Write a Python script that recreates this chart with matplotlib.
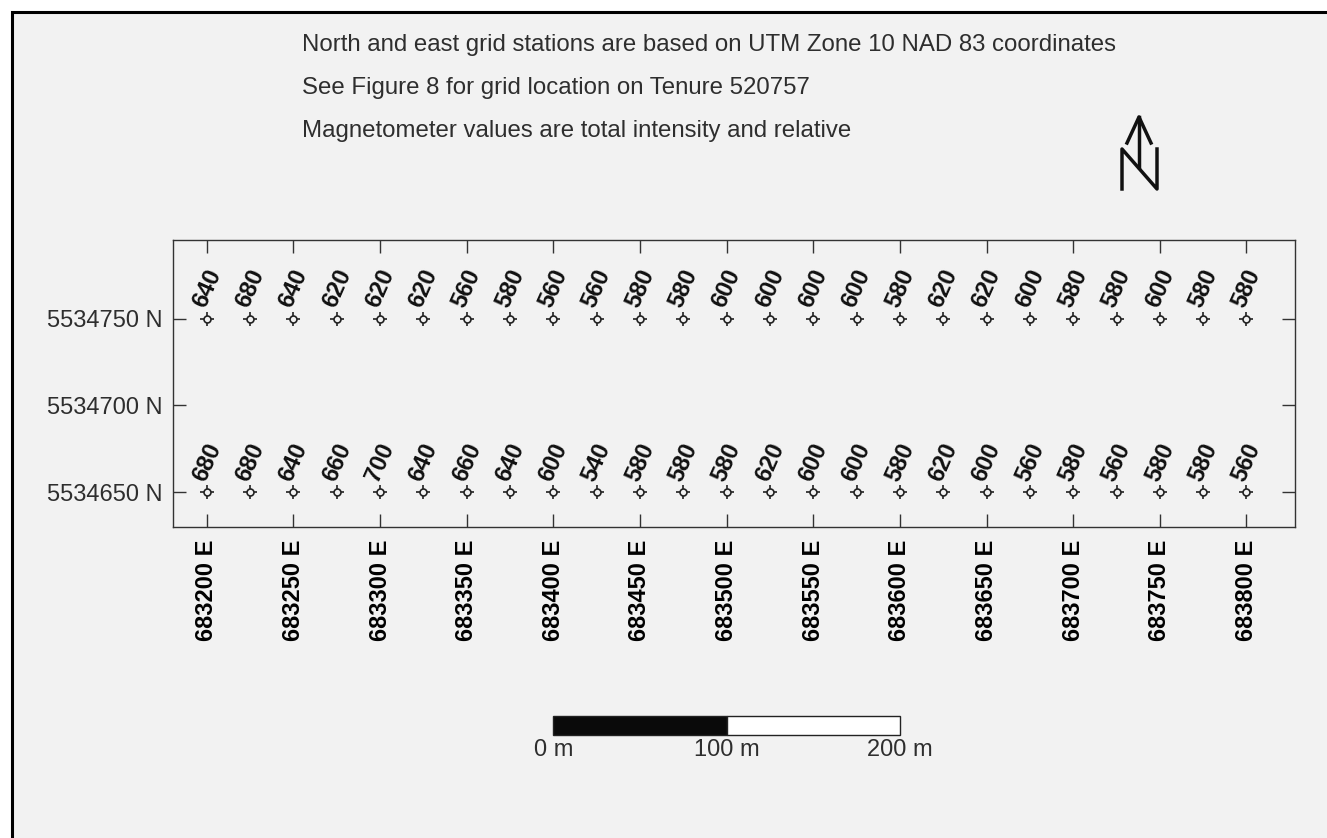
import matplotlib
matplotlib.use("Agg")
import matplotlib.pyplot as plt
import matplotlib.transforms as mtransforms
from matplotlib.patches import Rectangle
from matplotlib.lines import Line2D

# station eastings along both grid lines
eastings = [683200, 683225, 683250, 683275, 683300, 683325, 683350, 683375,
            683400, 683425, 683450, 683475, 683500, 683525, 683550, 683575,
            683600, 683625, 683650, 683675, 683700, 683725, 683750, 683775,
            683800]
north_line = 5534750
south_line = 5534650

# magnetometer readings (total intensity, relative)
mag_north = [640, 680, 640, 620, 620, 620, 560, 580, 560, 560, 580, 580, 600,
             600, 600, 600, 580, 620, 620, 600, 580, 580, 600, 580, 580]
mag_south = [680, 680, 640, 660, 700, 640, 660, 640, 600, 540, 580, 580, 580,
             620, 600, 600, 580, 620, 600, 560, 580, 560, 580, 580, 560]

x_ticks = [683200, 683250, 683300, 683350, 683400, 683450, 683500, 683550,
           683600, 683650, 683700, 683750, 683800]
y_ticks = [5534650, 5534700, 5534750]

notes = ["North and east grid stations are based on UTM Zone 10 NAD 83 coordinates",
         "See Figure 8 for grid location on Tenure 520757",
         "Magnetometer values are total intensity and relative"]

scale_start = 683400
scale_marks = [0, 100, 200]

W, H = 1327, 838
plt.rcParams['font.family'] = ['Liberation Sans', 'DejaVu Sans']

fig = plt.figure(figsize=(W / 100, H / 100), dpi=100, facecolor='white')


def fx(x):
    return x / W


def fy(y):
    return 1 - y / H


# grey page with black frame on left/top
fig.patches.append(Rectangle((fx(12), -0.1), 1.2, fy(12) + 0.1,
                             transform=fig.transFigure, facecolor='#f2f2f2',
                             edgecolor='black', lw=2.2, zorder=-10))

ax = fig.add_axes([fx(173), fy(527), fx(1295) - fx(173), fy(240) - fy(527)])
ax.patch.set_alpha(0)
ax.set_xlim(683180.5, 683828)
ax.set_ylim(5534630, 5534795.2)

ax.set_xticks(x_ticks)
ax.set_xticklabels([f"{v} E" for v in x_ticks], rotation=90,
                   fontweight='bold', fontsize=17, color='black')
ax.set_yticks(y_ticks)
ax.set_yticklabels([f"{v} N" for v in y_ticks], fontsize=17, color='#2e2e2e')
ax.tick_params(direction='in', length=9.5, width=1.0, color='#333333',
               top=True, right=True)
ax.tick_params(axis='x', pad=9)
ax.tick_params(axis='y', pad=7.7)
for s in ax.spines.values():
    s.set_color('#333333')
    s.set_linewidth(1.0)

label_tr = mtransforms.offset_copy(ax.transData, fig=fig, x=0, y=30, units='dots')
for line_y, vals in [(north_line, mag_north), (south_line, mag_south)]:
    ys = [line_y] * len(eastings)
    ax.plot(eastings, ys, linestyle='none', marker='+', markersize=9.5,
            markeredgewidth=1.2, color='#222222', zorder=3)
    ax.plot(eastings, ys, linestyle='none', marker='o', markersize=5,
            markeredgewidth=1.2, markeredgecolor='#222222',
            markerfacecolor='#f2f2f2', zorder=4)
    for e, v in zip(eastings, vals):
        ax.text(e, line_y, str(v), transform=label_tr, rotation=66,
                ha='center', va='center', fontsize=17, fontweight='bold',
                color='#111111')

# notes at top
for i, t in enumerate(notes):
    fig.text(fx(302), fy(45 + 43 * i), t, fontsize=17.3, color='#2e2e2e',
             ha='left', va='center')

# north arrow
arrow_lines = [
    ([1122, 1122, 1157, 1157], [189, 149, 189, 149]),
    ([1139, 1139], [167, 117]),
    ([1127, 1139, 1151], [143, 117, 143]),
]
for xs, ys in arrow_lines:
    fig.add_artist(Line2D([fx(x) for x in xs], [fy(y) for y in ys],
                          transform=fig.transFigure, color='#111111', lw=2.5))

# scale bar, drawn in map units
bar_tr = mtransforms.blended_transform_factory(ax.transData, fig.transFigure)
bar_y0, bar_h = fy(735), fy(716) - fy(735)
fig.add_artist(Rectangle((scale_start, bar_y0), scale_marks[1], bar_h,
                         transform=bar_tr, facecolor='#0a0a0a',
                         edgecolor='#222222', lw=1.0))
fig.add_artist(Rectangle((scale_start + scale_marks[1], bar_y0),
                         scale_marks[2] - scale_marks[1], bar_h,
                         transform=bar_tr, facecolor='white',
                         edgecolor='#222222', lw=1.0))
for m in scale_marks:
    fig.text(scale_start + m, fy(750), f"{m} m", transform=bar_tr,
             fontsize=17, color='#2e2e2e', ha='center', va='center')

fig.savefig("out.png", dpi=100, facecolor='white')
